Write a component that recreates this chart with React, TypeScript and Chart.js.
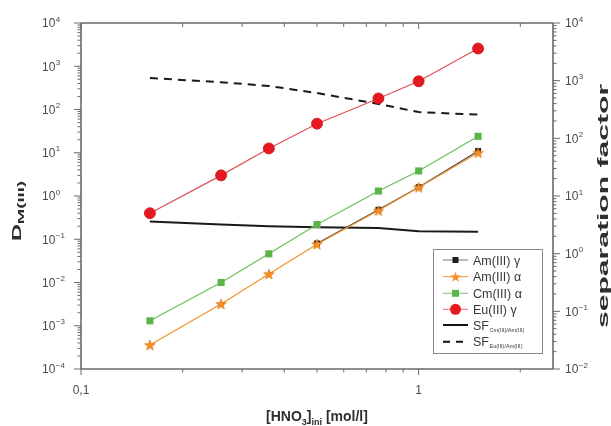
import React, { useEffect, useRef } from "react";
import { Chart, registerables } from "chart.js";

Chart.register(...registerables);

// ---- data ----
const hno3 = [0.16, 0.26, 0.36, 0.5, 0.76, 1.0, 1.5];
const amGamma = [null, null, null, 0.08, 0.48, 1.6, 11];
const amAlpha = [0.00036, 0.0032, 0.0157, 0.077, 0.46, 1.58, 10];
const cmAlpha = [0.0013, 0.010, 0.046, 0.22, 1.3, 3.8, 24];
const euGamma = [0.40, 3.0, 12.6, 47, 180, 450, 2570];
const sfCmAm = [3.6, 3.2, 3.0, 2.86, 2.8, 2.45, 2.4];
const sfEuAm = [1110, 940, 810, 610, 395, 285, 258];

const xMajorTicks = [0.1, 1];
const xMajorLabels = ["0,1", "1"];
const xMinorTicks = [0.2, 0.3, 0.4, 0.5, 0.6, 0.7, 0.8, 0.9, 2];
const leftExponents = [-4, -3, -2, -1, 0, 1, 2, 3, 4];
const rightExponents = [-2, -1, 0, 1, 2, 3, 4];

const FONT = "'Liberation Sans', Arial, Helvetica, sans-serif";
const AXIS = "#6a6a6a";
const TXT = "#4a4a4a";
const C_AMG = "#1e1e1e";
const C_AMA = "#f4902a";
const C_CM = "#5ab447";
const C_EU = "#e5191f";

function makeStar(outer: number, inner: number, fill: string, stroke: string) {
  const s = Math.ceil(outer * 2 + 3);
  const c = document.createElement("canvas");
  c.width = s;
  c.height = s;
  const g = c.getContext("2d")!;
  g.translate(s / 2, s / 2 + 0.5);
  starPath(g, outer, inner);
  g.fillStyle = fill;
  g.fill();
  g.strokeStyle = stroke;
  g.lineWidth = 0.7;
  g.stroke();
  return c;
}

function starPath(g: CanvasRenderingContext2D, outer: number, inner: number) {
  g.beginPath();
  for (let i = 0; i < 10; i++) {
    const r = i % 2 === 0 ? outer : inner;
    const a = -Math.PI / 2 + (i * Math.PI) / 5;
    const px = r * Math.cos(a);
    const py = r * Math.sin(a);
    if (i === 0) g.moveTo(px, py);
    else g.lineTo(px, py);
  }
  g.closePath();
}

function pts(ys: (number | null)[]) {
  return hno3.map((x, i) => ({ x, y: ys[i] }));
}

function minusify(n: number) {
  return n < 0 ? "\u2212" + Math.abs(n) : String(n);
}

function drawPow(ctx: CanvasRenderingContext2D, x: number, yc: number, e: number) {
  ctx.fillStyle = TXT;
  ctx.textAlign = "left";
  ctx.textBaseline = "alphabetic";
  ctx.font = `12px ${FONT}`;
  ctx.fillText("10", x, yc + 4.3);
  const w = ctx.measureText("10").width;
  ctx.font = `8px ${FONT}`;
  ctx.fillText(minusify(e), x + w + 0.5, yc - 1.5);
}

type Part = { t: string; size: number; dy: number };

function drawParts(ctx: CanvasRenderingContext2D, parts: Part[], cx: number, by: number, weight: string) {
  let total = 0;
  for (const p of parts) {
    ctx.font = `${weight} ${p.size}px ${FONT}`;
    total += ctx.measureText(p.t).width;
  }
  let x = cx - total / 2;
  ctx.textAlign = "left";
  ctx.textBaseline = "alphabetic";
  for (const p of parts) {
    ctx.font = `${weight} ${p.size}px ${FONT}`;
    ctx.fillText(p.t, x, by + p.dy);
    x += ctx.measureText(p.t).width;
  }
}

function drawRotated(ctx: CanvasRenderingContext2D, parts: Part[], baseX: number, cy: number, stretch: number) {
  ctx.save();
  ctx.translate(baseX, cy);
  ctx.rotate(-Math.PI / 2);
  ctx.scale(stretch, 1);
  drawParts(ctx, parts, 0, 0, "bold");
  ctx.restore();
}

const framePlugin = {
  id: "frame",
  beforeDatasetsDraw(chart: any) {
    const { ctx, chartArea: a, scales } = chart;
    const sx = scales.x;
    const sy = scales.y;
    const sy2 = scales.y2;
    ctx.save();
    ctx.strokeStyle = AXIS;
    ctx.lineWidth = 1.6;
    ctx.beginPath();
    ctx.moveTo(a.left, a.top);
    ctx.lineTo(a.right, a.top);
    ctx.moveTo(a.left, a.bottom);
    ctx.lineTo(a.right, a.bottom);
    ctx.moveTo(a.left, a.top);
    ctx.lineTo(a.left, a.bottom);
    ctx.moveTo(a.right, a.top);
    ctx.lineTo(a.right, a.bottom);
    ctx.stroke();

    ctx.lineWidth = 1;
    const seg = (x1: number, y1: number, x2: number, y2: number) => {
      ctx.beginPath();
      ctx.moveTo(x1, y1);
      ctx.lineTo(x2, y2);
      ctx.stroke();
    };
    // left axis ticks
    for (const e of leftExponents) {
      const v = Math.pow(10, e);
      const py = sy.getPixelForValue(v);
      seg(a.left - 7, py, a.left, py);
      if (e < 4) {
        for (let m = 2; m <= 9; m++) {
          const q = sy.getPixelForValue(m * v);
          seg(a.left - 3.5, q, a.left, q);
        }
      }
    }
    // right axis ticks
    for (const e of rightExponents) {
      const v = Math.pow(10, e);
      const py = sy2.getPixelForValue(v);
      seg(a.right, py, a.right + 7, py);
      if (e < 4) {
        for (let m = 2; m <= 9; m++) {
          const q = sy2.getPixelForValue(m * v);
          seg(a.right, q, a.right + 3.5, q);
        }
      }
    }
    // x ticks
    for (const v of xMajorTicks) {
      const px = sx.getPixelForValue(v);
      seg(px, a.bottom, px, a.bottom + 6);
      seg(px, a.top, px, a.top + 6);
    }
    for (const v of xMinorTicks) {
      const px = sx.getPixelForValue(v);
      seg(px, a.bottom, px, a.bottom + 3.5);
      seg(px, a.top, px, a.top + 4);
    }
    ctx.restore();
  },
  afterDraw(chart: any) {
    const { ctx, scales } = chart;
    const sx = scales.x;
    const sy = scales.y;
    const sy2 = scales.y2;
    ctx.save();
    // tick labels
    for (const e of leftExponents) {
      drawPow(ctx, 42, sy.getPixelForValue(Math.pow(10, e)), e);
    }
    for (const e of rightExponents) {
      drawPow(ctx, 565, sy2.getPixelForValue(Math.pow(10, e)), e);
    }
    ctx.fillStyle = TXT;
    ctx.font = `12px ${FONT}`;
    ctx.textAlign = "center";
    ctx.textBaseline = "alphabetic";
    xMajorTicks.forEach((v, i) => {
      ctx.fillText(xMajorLabels[i], sx.getPixelForValue(v), 394);
    });

    // axis titles
    ctx.fillStyle = "#2e2e2e";
    drawParts(
      ctx,
      [
        { t: "[HNO", size: 14, dy: 0 },
        { t: "3", size: 9, dy: 3.5 },
        { t: "]", size: 14, dy: 0 },
        { t: "ini", size: 9, dy: 3.5 },
        { t: " [mol/l]", size: 14, dy: 0 },
      ],
      317,
      421,
      "bold"
    );
    drawRotated(
      ctx,
      [
        { t: "D", size: 12, dy: 0 },
        { t: "M(III)", size: 9.5, dy: 2.5 },
      ],
      21,
      211,
      1.95
    );
    drawRotated(ctx, [{ t: "separation factor", size: 14, dy: 0 }], 608, 206, 2.15);

    // legend
    const L = 433, T = 249, R = 542, B = 353;
    ctx.fillStyle = "#ffffff";
    ctx.fillRect(L, T, R - L, B - T);
    ctx.strokeStyle = "#8a8a8a";
    ctx.lineWidth = 1;
    ctx.strokeRect(L + 0.5, T + 0.5, R - L, B - T);

    const rows = [260, 276.7, 293.3, 309.3, 325, 341.7];
    const lx1 = 443, lx2 = 468, mx = 455.5, tx = 473;
    const line = (y: number, color: string, w: number, dash: number[]) => {
      ctx.save();
      ctx.strokeStyle = color;
      ctx.lineWidth = w;
      ctx.setLineDash(dash);
      ctx.beginPath();
      ctx.moveTo(lx1, y);
      ctx.lineTo(lx2, y);
      ctx.stroke();
      ctx.restore();
    };
    // Am gamma
    line(rows[0], "#777", 1, []);
    ctx.fillStyle = C_AMG;
    ctx.fillRect(mx - 3, rows[0] - 3, 6, 6);
    // Am alpha
    line(rows[1], C_AMA, 1, []);
    ctx.save();
    ctx.translate(mx, rows[1] + 0.5);
    starPath(ctx, 5.5, 2.3);
    ctx.fillStyle = C_AMA;
    ctx.fill();
    ctx.restore();
    // Cm alpha
    line(rows[2], "#7cc46c", 1, []);
    ctx.fillStyle = C_CM;
    ctx.fillRect(mx - 3.5, rows[2] - 3.5, 7, 7);
    // Eu gamma
    line(rows[3], "#e86a6a", 1, []);
    ctx.beginPath();
    ctx.arc(mx, rows[3], 5.5, 0, Math.PI * 2);
    ctx.fillStyle = C_EU;
    ctx.fill();
    // SF lines
    line(rows[4], "#111", 2, []);
    line(rows[5], "#111", 2, [7, 6]);

    ctx.fillStyle = "#3a3a3a";
    ctx.textAlign = "left";
    ctx.textBaseline = "alphabetic";
    const labels = ["Am(III) \u03b3", "Am(III) \u03b1", "Cm(III) \u03b1", "Eu(III) \u03b3"];
    ctx.font = `12.5px ${FONT}`;
    labels.forEach((t, i) => ctx.fillText(t, tx, rows[i] + 4.5));
    const sfSub = ["Cm(III)/Am(III)", "Eu(III)/Am(III)"];
    sfSub.forEach((s, i) => {
      const y = rows[4 + i] + 4.5;
      ctx.font = `12.5px ${FONT}`;
      ctx.fillText("SF", tx, y);
      const w = ctx.measureText("SF").width;
      ctx.font = `5.5px ${FONT}`;
      ctx.fillText(s, tx + w + 0.5, y + 2);
    });
    ctx.restore();
  },
};

export default function App() {
  const ref = useRef<HTMLCanvasElement | null>(null);
  useEffect(() => {
    document.body.style.margin = "0";
    const canvas = ref.current!;
    const star = makeStar(5.5, 2.3, C_AMA, "#e07a10");
    const chart = new Chart(canvas, {
      type: "line",
      data: {
        datasets: [
          {
            label: "Am(III) \u03b1",
            data: pts(amAlpha),
            yAxisID: "y",
            borderColor: C_AMA,
            borderWidth: 1.2,
            pointStyle: star as any,
            pointRadius: 5.5,
            tension: 0,
          },
          {
            label: "Am(III) \u03b3",
            data: pts(amGamma),
            yAxisID: "y",
            borderColor: "#444",
            borderWidth: 1.2,
            pointStyle: "rect",
            pointRadius: 4.2,
            pointBackgroundColor: C_AMG,
            pointBorderColor: C_AMG,
            pointBorderWidth: 0,
            tension: 0,
          },
          {
            label: "Cm(III) \u03b1",
            data: pts(cmAlpha),
            yAxisID: "y",
            borderColor: "#6cbf5a",
            borderWidth: 1.2,
            pointStyle: "rect",
            pointRadius: 5,
            pointBackgroundColor: C_CM,
            pointBorderColor: C_CM,
            pointBorderWidth: 0,
            tension: 0,
          },
          {
            label: "Eu(III) \u03b3",
            data: pts(euGamma),
            yAxisID: "y",
            borderColor: "#e05055",
            borderWidth: 1.2,
            pointStyle: "circle",
            pointRadius: 5.5,
            pointBackgroundColor: C_EU,
            pointBorderColor: "#c8141a",
            pointBorderWidth: 0.8,
            tension: 0,
          },
          {
            label: "SF Eu(III)/Am(III)",
            data: pts(sfEuAm),
            yAxisID: "y2",
            borderColor: "#1a1a1a",
            borderWidth: 2,
            borderDash: [8, 6],
            pointRadius: 0,
            tension: 0,
          },
          {
            label: "SF Cm(III)/Am(III)",
            data: pts(sfCmAm),
            yAxisID: "y2",
            borderColor: "#1a1a1a",
            borderWidth: 2,
            pointRadius: 0,
            tension: 0,
          },
        ],
      },
      options: {
        animation: false,
        responsive: false,
        maintainAspectRatio: false,
        layout: { padding: { left: 81, right: 58, top: 23, bottom: 57 } },
        plugins: { legend: { display: false }, tooltip: { enabled: false } },
        scales: {
          x: { type: "logarithmic", min: 0.1, max: 2.5, display: false },
          y: { type: "logarithmic", min: 1e-4, max: 1e4, display: false },
          y2: { type: "logarithmic", min: 1e-2, max: 1e4, display: false, position: "right" },
        },
      },
      plugins: [framePlugin],
    });
    return () => chart.destroy();
  }, []);
  return (
    <div style={{ position: "absolute", left: 0, top: 0, width: 611, height: 426 }}>
      <canvas ref={ref} width={611} height={426} />
    </div>
  );
}
